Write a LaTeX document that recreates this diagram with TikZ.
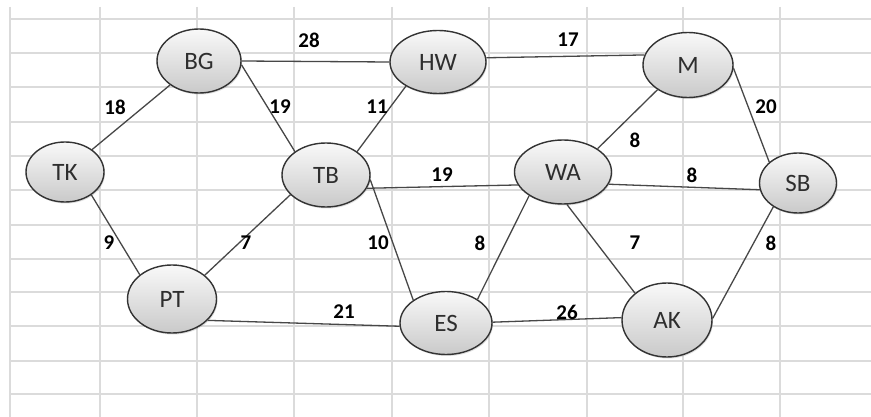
\documentclass[tikz,border=0pt]{standalone}
\usepackage{fontspec}
\setmainfont{Carlito}
\usetikzlibrary{shapes.geometric,shadows}
\begin{document}
\begin{tikzpicture}[x=1pt,y=-1pt,
  city/.style={ellipse, draw=black!80, line width=1.4pt, top color=gray!5, bottom color=gray!42,
    inner sep=0pt, font=\fontsize{25}{25}\selectfont, text=black!82,
    drop shadow={opacity=0.25, shadow xshift=1pt, shadow yshift=-1.5pt}},
  road/.style={draw=black!72, line width=1.3pt},
  wt/.style={font=\bfseries\fontsize{21}{21}\selectfont, text=black},
  gridline/.style={draw=black!14, line width=1.3pt}
]
\useasboundingbox[fill=white] (0,0) rectangle (871,417);
% spreadsheet grid
\foreach \gx in {10,100,197,294,392,489,587,683,780}
  \draw[gridline] (\gx,7) -- (\gx,417);
\foreach \gy in {19,53,87,122,156,190,225,259,292,326,361,394}
  \draw[gridline] (10,\gy) -- (871,\gy);

% nodes
\node[city, minimum width=78pt, minimum height=60pt] (TK) at (65,172) {TK};
\node[city, minimum width=84pt, minimum height=64pt] (BG) at (199,61) {BG};
\node[city, minimum width=96pt, minimum height=63pt] (HW) at (438,62) {HW};
\node[city, minimum width=88pt, minimum height=64pt] (TB) at (326,175) {TB};
\node[city, minimum width=97pt, minimum height=64pt] (WA) at (563,172) {WA};
\node[city, minimum width=90pt, minimum height=65pt] (M) at (688,65) {M};
\node[city, minimum width=77pt, minimum height=60pt] (SB) at (798,183) {SB};
\node[city, minimum width=89pt, minimum height=68pt] (PT) at (172,299) {PT};
\node[city, minimum width=92pt, minimum height=63pt] (ES) at (446,323) {ES};
\node[city, minimum width=90pt, minimum height=74pt] (AK) at (667,320) {AK};

% roads
\draw[road] (TK) -- (BG);
\draw[road] (BG.-5) -- (TB.143);
\draw[road] (BG.0) -- (HW.180);
\draw[road] (HW.217) -- (TB.37);
\draw[road] (HW.5) -- (M.167);
\draw[road] (TB.-18) -- (WA.196);
\draw[road] (WA.34) -- (M.219);
\draw[road] (WA.-15) -- (SB.190);
\draw[road] (M.-4) -- (SB.144);
\draw[road] (TK.-41) -- (PT.143);
\draw[road] (PT.36) -- (TB.209);
\draw[road] (PT.-31) -- (ES.184);
\draw[road] (TB.-6) -- (ES.145);
\draw[road] (ES.37) -- (WA.215);
\draw[road] (WA.-83) -- (AK.140);
\draw[road] (SB.224) -- (AK.2);
\draw[road] (ES.1) -- (AK.177);

% weights
\node[wt] (w1) at (309,40) {28};
\node[wt] (w2) at (568,40) {17};
\node[wt] (w3) at (115,107) {18};
\node[wt] (w4) at (280,107) {19};
\node[wt] (w5) at (377,107) {11};
\node[wt] (w6) at (442,175) {19};
\node[wt] (w7) at (635,140) {8};
\node[wt] (w8) at (692,175) {8};
\node[wt] (w9) at (766,107) {20};
\node[wt] (w10) at (109,243) {9};
\node[wt] (w11) at (246,243) {7};
\node[wt] (w12) at (378,243) {10};
\node[wt] (w13) at (480,243) {8};
\node[wt] (w14) at (635,243) {7};
\node[wt] (w15) at (771,243) {8};
\node[wt] (w16) at (344,312) {21};
\node[wt] (w17) at (567,312) {26};
\end{tikzpicture}
\end{document}
